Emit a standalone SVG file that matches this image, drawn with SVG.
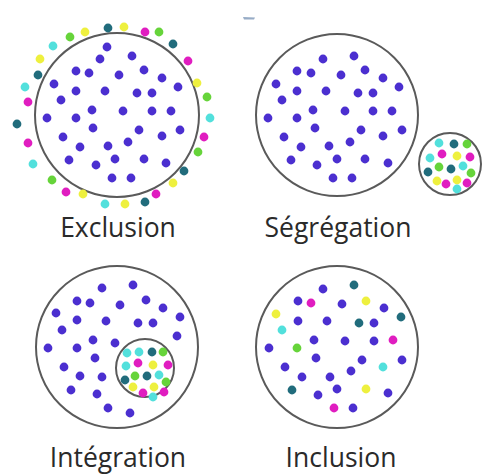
<svg xmlns="http://www.w3.org/2000/svg" width="485" height="476" viewBox="0 0 485 476">
  <style>
    .ring { fill: none; stroke: #5a5a5a; stroke-width: 2; }
    .lbl { font-family: "Open Sans", "Liberation Sans", sans-serif; font-size: 26.5px; fill: #2a2a2a; text-anchor: middle; }
    circle.p { fill: #4b2fd0; }
    circle.t { fill: #216c7c; }
    circle.y { fill: #eef03e; }
    circle.m { fill: #e01dc0; }
    circle.g { fill: #66d43a; }
    circle.c { fill: #52e0dc; }
    .dots circle { r: 4.4px; }
  </style>
  <rect width="485" height="476" fill="#ffffff"/>

  <!-- small mark near the top -->
  <path d="M243 17 L255 17.5 L254 19.5 L244 19.5 Z" fill="#7d97b8" opacity="0.8"/>

  <!-- Exclusion -->
  <g id="exclusion">
    <circle class="ring" cx="117" cy="115" r="82"/>
    <g class="dots">
      <circle class="p" cx="107" cy="47"/><circle class="p" cx="132" cy="56"/><circle class="p" cx="100" cy="59"/>
      <circle class="p" cx="76" cy="71"/><circle class="p" cx="89" cy="73"/><circle class="p" cx="119" cy="75"/>
      <circle class="p" cx="144" cy="70"/><circle class="p" cx="162" cy="78"/><circle class="p" cx="54" cy="84"/>
      <circle class="p" cx="178" cy="87"/><circle class="p" cx="76" cy="91"/><circle class="p" cx="105" cy="91"/>
      <circle class="p" cx="137" cy="93"/><circle class="p" cx="152" cy="93"/><circle class="p" cx="61" cy="100"/>
      <circle class="p" cx="92" cy="110"/><circle class="p" cx="123" cy="111"/><circle class="p" cx="152" cy="111"/>
      <circle class="p" cx="171" cy="111"/><circle class="p" cx="47" cy="118"/><circle class="p" cx="76" cy="118"/>
      <circle class="p" cx="93" cy="128"/><circle class="p" cx="139" cy="130"/><circle class="p" cx="180" cy="130"/>
      <circle class="p" cx="63" cy="137"/><circle class="p" cx="162" cy="136"/><circle class="p" cx="128" cy="142"/>
      <circle class="p" cx="80" cy="147"/><circle class="p" cx="108" cy="146"/><circle class="p" cx="115" cy="159"/>
      <circle class="p" cx="144" cy="159"/><circle class="p" cx="69" cy="160"/><circle class="p" cx="96" cy="165"/>
      <circle class="p" cx="166" cy="163"/><circle class="p" cx="112" cy="178"/><circle class="p" cx="131" cy="178"/>
      <!-- outer ring of coloured dots -->
      <circle class="t" cx="108" cy="28"/><circle class="y" cx="124" cy="27"/><circle class="m" cx="145" cy="32"/>
      <circle class="g" cx="159" cy="32"/><circle class="t" cx="173" cy="44"/><circle class="m" cx="188" cy="61"/>
      <circle class="y" cx="197" cy="83"/><circle class="g" cx="207" cy="97"/><circle class="c" cx="210" cy="118"/>
      <circle class="m" cx="204" cy="137"/><circle class="g" cx="198" cy="152"/><circle class="t" cx="184" cy="171"/>
      <circle class="y" cx="173" cy="183"/><circle class="m" cx="156" cy="194"/><circle class="t" cx="145" cy="202"/>
      <circle class="y" cx="125" cy="204"/><circle class="c" cx="105" cy="204"/><circle class="y" cx="83" cy="194"/>
      <circle class="m" cx="66" cy="192"/><circle class="g" cx="52" cy="180"/><circle class="c" cx="33" cy="164"/>
      <circle class="m" cx="28" cy="143"/><circle class="t" cx="17" cy="124"/><circle class="m" cx="28" cy="102"/>
      <circle class="c" cx="25" cy="87"/><circle class="t" cx="38" cy="75"/><circle class="y" cx="40" cy="59"/>
      <circle class="c" cx="53" cy="46"/><circle class="g" cx="70" cy="37"/><circle class="y" cx="85" cy="32"/>
    </g>
    <text class="lbl" x="118" y="237">Exclusion</text>
  </g>

  <!-- Ségrégation -->
  <g id="segregation">
    <circle class="ring" cx="337" cy="115" r="81"/>
    <circle class="ring" cx="450" cy="164" r="31"/>
    <g class="dots">
      <circle class="p" cx="323" cy="59"/><circle class="p" cx="354" cy="56"/><circle class="p" cx="297" cy="71"/>
      <circle class="p" cx="311" cy="73"/><circle class="p" cx="341" cy="75"/><circle class="p" cx="365" cy="70"/>
      <circle class="p" cx="383" cy="78"/><circle class="p" cx="276" cy="84"/><circle class="p" cx="399" cy="87"/>
      <circle class="p" cx="297" cy="91"/><circle class="p" cx="326" cy="91"/><circle class="p" cx="358" cy="93"/>
      <circle class="p" cx="373" cy="93"/><circle class="p" cx="282" cy="100"/><circle class="p" cx="313" cy="110"/>
      <circle class="p" cx="345" cy="111"/><circle class="p" cx="373" cy="111"/><circle class="p" cx="392" cy="111"/>
      <circle class="p" cx="268" cy="118"/><circle class="p" cx="297" cy="118"/><circle class="p" cx="315" cy="128"/>
      <circle class="p" cx="361" cy="130"/><circle class="p" cx="402" cy="130"/><circle class="p" cx="284" cy="137"/>
      <circle class="p" cx="383" cy="136"/><circle class="p" cx="350" cy="142"/><circle class="p" cx="301" cy="147"/>
      <circle class="p" cx="329" cy="146"/><circle class="p" cx="337" cy="159"/><circle class="p" cx="365" cy="159"/>
      <circle class="p" cx="291" cy="160"/><circle class="p" cx="317" cy="165"/><circle class="p" cx="388" cy="163"/>
      <circle class="p" cx="333" cy="178"/><circle class="p" cx="352" cy="178"/>
      <!-- separated group -->
      <circle class="c" cx="439" cy="143"/><circle class="t" cx="454" cy="144"/><circle class="g" cx="467" cy="144"/>
      <circle class="m" cx="442" cy="154"/><circle class="y" cx="457" cy="156"/><circle class="m" cx="470" cy="157"/>
      <circle class="c" cx="430" cy="158"/><circle class="g" cx="439" cy="167"/><circle class="t" cx="451" cy="169"/>
      <circle class="c" cx="463" cy="166"/><circle class="g" cx="471" cy="173"/><circle class="t" cx="428" cy="172"/>
      <circle class="y" cx="437" cy="181"/><circle class="m" cx="446" cy="184"/><circle class="y" cx="457" cy="180"/>
      <circle class="m" cx="467" cy="183"/><circle class="c" cx="457" cy="189"/>
    </g>
    <text class="lbl" x="338" y="237">Ségrégation</text>
  </g>

  <!-- Intégration -->
  <g id="integration">
    <circle class="ring" cx="117" cy="347" r="81"/>
    <circle class="ring" cx="145" cy="368" r="29"/>
    <g class="dots">
      <circle class="p" cx="102" cy="288"/><circle class="p" cx="133" cy="285"/><circle class="p" cx="77" cy="301"/>
      <circle class="p" cx="90" cy="303"/><circle class="p" cx="120" cy="305"/><circle class="p" cx="146" cy="300"/>
      <circle class="p" cx="163" cy="308"/><circle class="p" cx="56" cy="313"/><circle class="p" cx="180" cy="317"/>
      <circle class="p" cx="77" cy="320"/><circle class="p" cx="106" cy="321"/><circle class="p" cx="138" cy="323"/>
      <circle class="p" cx="153" cy="323"/><circle class="p" cx="62" cy="330"/><circle class="p" cx="177" cy="336"/>
      <circle class="p" cx="93" cy="340"/><circle class="p" cx="115" cy="343"/><circle class="p" cx="48" cy="348"/>
      <circle class="p" cx="77" cy="348"/><circle class="p" cx="95" cy="358"/><circle class="p" cx="64" cy="367"/>
      <circle class="p" cx="80" cy="376"/><circle class="p" cx="102" cy="377"/><circle class="p" cx="71" cy="390"/>
      <circle class="p" cx="97" cy="394"/><circle class="p" cx="108" cy="408"/><circle class="p" cx="130" cy="413"/>
      <!-- integrated group -->
      <circle class="c" cx="127" cy="353"/><circle class="c" cx="139" cy="352"/><circle class="t" cx="152" cy="352"/>
      <circle class="g" cx="163" cy="352"/><circle class="m" cx="138" cy="363"/><circle class="y" cx="153" cy="365"/>
      <circle class="m" cx="168" cy="365"/><circle class="c" cx="126" cy="366"/><circle class="g" cx="135" cy="376"/>
      <circle class="t" cx="147" cy="376"/><circle class="c" cx="159" cy="375"/><circle class="g" cx="166" cy="382"/>
      <circle class="t" cx="125" cy="380"/><circle class="y" cx="133" cy="387"/><circle class="m" cx="143" cy="393"/>
      <circle class="y" cx="154" cy="387"/><circle class="m" cx="164" cy="392"/><circle class="c" cx="153" cy="397"/>
    </g>
    <text class="lbl" x="118" y="467">Intégration</text>
  </g>

  <!-- Inclusion -->
  <g id="inclusion">
    <circle class="ring" cx="337" cy="347" r="81"/>
    <g class="dots">
      <circle class="p" cx="323" cy="289"/><circle class="t" cx="354" cy="285"/><circle class="p" cx="298" cy="301"/>
      <circle class="m" cx="311" cy="303"/><circle class="p" cx="342" cy="304"/><circle class="y" cx="366" cy="301"/>
      <circle class="p" cx="384" cy="308"/><circle class="y" cx="276" cy="314"/><circle class="t" cx="401" cy="317"/>
      <circle class="p" cx="298" cy="321"/><circle class="p" cx="327" cy="321"/><circle class="t" cx="359" cy="323"/>
      <circle class="p" cx="374" cy="323"/><circle class="c" cx="282" cy="330"/><circle class="p" cx="314" cy="340"/>
      <circle class="p" cx="345" cy="341"/><circle class="p" cx="374" cy="341"/><circle class="m" cx="393" cy="340"/>
      <circle class="p" cx="269" cy="348"/><circle class="g" cx="297" cy="348"/><circle class="p" cx="316" cy="358"/>
      <circle class="p" cx="362" cy="360"/><circle class="p" cx="402" cy="360"/><circle class="p" cx="285" cy="367"/>
      <circle class="c" cx="383" cy="367"/><circle class="p" cx="351" cy="371"/><circle class="p" cx="302" cy="377"/>
      <circle class="p" cx="330" cy="377"/><circle class="t" cx="292" cy="390"/><circle class="p" cx="337" cy="389"/>
      <circle class="y" cx="366" cy="389"/><circle class="p" cx="318" cy="395"/><circle class="p" cx="388" cy="393"/>
      <circle class="m" cx="334" cy="408"/><circle class="p" cx="353" cy="408"/>
    </g>
    <text class="lbl" x="341" y="467">Inclusion</text>
  </g>
</svg>
